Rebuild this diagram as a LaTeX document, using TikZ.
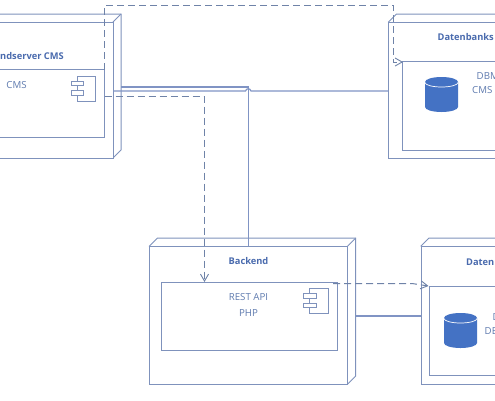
\documentclass[tikz,border=0pt]{standalone}
\usepackage{fontspec}
\setmainfont{Open Sans}
\usetikzlibrary{arrows.meta}
\definecolor{lineblue}{HTML}{7F92BC}
\definecolor{solidblue}{HTML}{8094C4}
\definecolor{dashblue}{HTML}{6F83A8}
\definecolor{textblue}{HTML}{5F7BAF}
\definecolor{boldblue}{HTML}{4A6BAE}
\definecolor{cylblue}{HTML}{4472C4}
\tikzset{
  box/.style={draw=lineblue,line width=1pt,fill=white},
  solidline/.style={draw=solidblue,line width=1.2pt},
  dashline/.style={draw=dashblue,line width=1pt,dash pattern=on 7pt off 4pt},
  openhead/.style={-{Straight Barb[length=7pt,width=8pt,line width=0.9pt]}},
  title/.style={font=\fontsize{9.3}{10}\selectfont\bfseries,text=boldblue,inner sep=0pt},
  label/.style={font=\fontsize{9.7}{11}\selectfont,text=textblue,inner sep=0pt},
  stub/.style={draw=lineblue,line width=0.8pt,fill=white}
}
\newcommand{\cuboid}[4]{% left,top,right,bottom of front face
  \draw[box] (#1,#2) -- ++(8,-8) -- (#3+8,#2-8) -- (#3+8,#4-8) -- (#3,#4) -- cycle;
  \draw[box] (#1,#2) rectangle (#3,#4);
  \draw[draw=lineblue,line width=1pt] (#3,#2) -- ++(8,-8);
}
\newcommand{\compicon}[2]{% left of body, top of body
  \draw[draw=lineblue,line width=0.8pt] (#1,#2) rectangle ++(18.5,25);
  \draw[stub] (#1-6,#2+5) rectangle ++(12.5,4.5);
  \draw[stub] (#1-6,#2+14.5) rectangle ++(12.5,4.5);
}
\newcommand{\cylinder}[2]{% left, top
  \fill[cylblue] (#1,#2+5) arc[start angle=180,end angle=360,x radius=16.5,y radius=5] -- ++(0,25) arc[start angle=0,end angle=180,x radius=16.5,y radius=5] -- cycle;
  \draw[white,line width=0.7pt] (#1,#2+5.5) arc[start angle=180,end angle=0,x radius=16.5,y radius=4.5];
}
\begin{document}
\begin{tikzpicture}[x=1pt,y=-1pt]
\useasboundingbox (0,0) rectangle (495,400);
\clip (0,0) rectangle (495,400);
% nodes
\cuboid{-40}{22}{113}{158}
\draw[box] (-40,69.5) rectangle (104.5,137);
\compicon{77}{76}
\node[title,anchor=base east] (n1) at (64,59) {ndserver CMS};
\node[label,anchor=base] (n2) at (16.5,88) {CMS};

\cuboid{388.5}{22}{560}{158}
\draw[box] (402.5,61.5) rectangle (560,150.5);
\cylinder{425}{77}
\node[title,anchor=base west] (n3) at (437.5,40) {Datenbanks};
\node[label,anchor=base west] (n4) at (476.5,79.5) {DBM};
\node[label,anchor=base west] (n5) at (472,93.5) {CMS};

\cuboid{149.5}{246}{347.7}{384}
\draw[box] (161,282.5) rectangle (337.5,350.5);
\compicon{309.5}{288.5}
\node[title,anchor=base] (n6) at (248.5,264.5) {Backend};
\node[label,anchor=base] (n7) at (248.5,300.5) {REST API};
\node[label,anchor=base] (n8) at (248.5,316.5) {PHP};

\cuboid{421}{246}{560}{384}
\draw[box] (429.5,286) rectangle (560,375);
\cylinder{444}{313}
\node[title,anchor=base west] (n9) at (466,265) {Daten};
\node[label,anchor=base west] (n10) at (492.5,320) {D};
\node[label,anchor=base west] (n11) at (484.5,334.5) {DE};

% coordinates
\coordinate (a1) at (121,87);
\coordinate (a2) at (248.5,87);
\coordinate (a3) at (248.5,246);
\coordinate (b1) at (113,91);
\coordinate (b2) at (245.5,91);
\coordinate (b3) at (251,91);
\coordinate (b4) at (388.5,91);
\coordinate (c1) at (104.5,96.5);
\coordinate (c2) at (204.5,96.5);
\coordinate (c3) at (204.5,282);
\coordinate (d1) at (104.5,69.5);
\coordinate (d2) at (104.5,5);
\coordinate (d3) at (393,5);
\coordinate (d4) at (393,62);
\coordinate (d5) at (403,62);
\coordinate (e1) at (333,283.5);
\coordinate (e2) at (412,283.5);
\coordinate (e3) at (428.5,286);
\coordinate (f1) at (356,316);
\coordinate (f2) at (421,316);
% connectors
\draw[solidline] (a1) -- (a2) -- (a3);
\draw[solidline] (b1) -- (b2) .. controls (246.5,88) and (250,88) .. (b3) -- (b4);
\draw[solidline] (f1) -- (f2);
\draw[dashline,openhead] (c1) -- (c2) -- (c3);
\draw[dashline,openhead] (d1) -- (d2) -- (d3) -- (d4) -- (d5);
\draw[dashline,openhead] (e1) -- (e2) -- (e3);
\end{tikzpicture}
\end{document}
